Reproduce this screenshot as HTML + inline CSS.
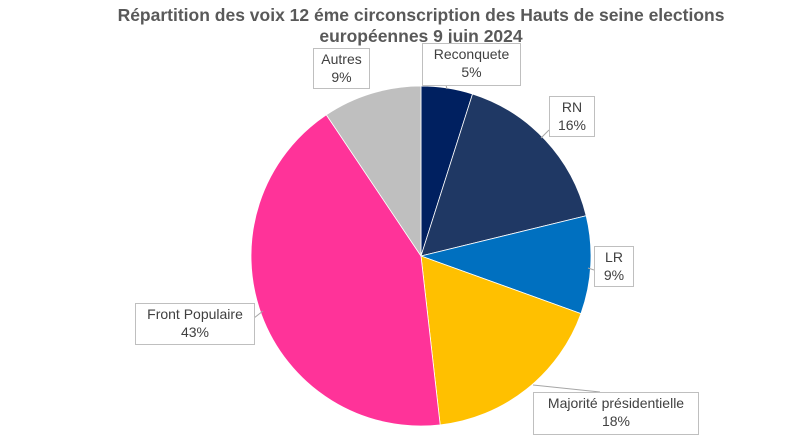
<!DOCTYPE html>
<html><head><meta charset="utf-8"><style>
body{margin:0;background:#fff;}
svg{display:block;font-family:"Liberation Sans",Arial,sans-serif;}
</style></head><body>
<svg id="chart" width="800" height="442" viewBox="0 0 800 442">
<text x="421" y="21" text-anchor="middle" font-size="17.5" font-weight="bold" fill="#595959">Répartition des voix  12 éme circonscription des Hauts de seine elections</text>
<text x="421" y="42" text-anchor="middle" font-size="17.5" font-weight="bold" fill="#595959">européennes 9 juin 2024</text>
<g id="slices"></g>
<g id="labels"></g>
</svg>
<script>
const categories = ["Reconquete","RN","LR","Majorité présidentielle","Front Populaire","Autres"];
const values = [4.9,16.3,9.3,17.7,42.4,9.4];
const printed = ["5%","16%","9%","18%","43%","9%"];
const colors = ["#002060","#1F3864","#0070C0","#FFC000","#FF3399","#BFBFBF"];
const boxes = [[422,43,98,42],[549,96,45,40],[594,246,39,40],[533,392,165,42],[135,303,119,41],[313,48,56,40]];
const leaders = [[[446,85],[447,89]],[[549,130],[541,138]],[[594,270],[588,268]],[[600,392],[533,385]],[[254,318],[263,311]],null];
const ns="http://www.w3.org/2000/svg";
const cx=421, cy=256, r=170;
const total=values.reduce((a,b)=>a+b,0);
function pt(frac){const a=frac*2*Math.PI;return [cx+r*Math.sin(a), cy-r*Math.cos(a)];}
const sg=document.getElementById('slices'), lg=document.getElementById('labels');
let cum=0;
values.forEach((v,i)=>{
  const s=cum/total; cum+=v; const e=cum/total;
  const p0=pt(s), p1=pt(e);
  const large=(e-s)>0.5?1:0;
  const p=document.createElementNS(ns,'path');
  p.setAttribute('d',`M${cx},${cy} L${p0[0]},${p0[1]} A${r},${r} 0 ${large} 1 ${p1[0]},${p1[1]} Z`);
  p.setAttribute('fill',colors[i]);
  p.setAttribute('stroke','#fff');p.setAttribute('stroke-width','0.8');
  
  
  sg.appendChild(p);
  const b=boxes[i];
  if(leaders[i]){
    const l=document.createElementNS(ns,'polyline');
    l.setAttribute('points',leaders[i].map(q=>q.join(',')).join(' '));
    l.setAttribute('fill','none');l.setAttribute('stroke','#A6A6A6');l.setAttribute('stroke-width','1');
    
    
    lg.appendChild(l);
  }
  const g=document.createElementNS(ns,'g');
  
  
  const rc=document.createElementNS(ns,'rect');
  rc.setAttribute('x',b[0]+0.5);rc.setAttribute('y',b[1]+0.5);rc.setAttribute('width',b[2]);rc.setAttribute('height',b[3]);
  rc.setAttribute('fill','#fff');rc.setAttribute('stroke','#BFBFBF');
  g.appendChild(rc);
  [categories[i],printed[i]].forEach((t,k)=>{
    const tx=document.createElementNS(ns,'text');
    tx.setAttribute('x',b[0]+b[2]/2+0.5);tx.setAttribute('y',b[1]+16+k*18);
    tx.setAttribute('text-anchor','middle');tx.setAttribute('font-size','14');tx.setAttribute('fill','#404040');
    tx.textContent=t;g.appendChild(tx);
  });
  lg.appendChild(g);
});
</script>
</body></html>
